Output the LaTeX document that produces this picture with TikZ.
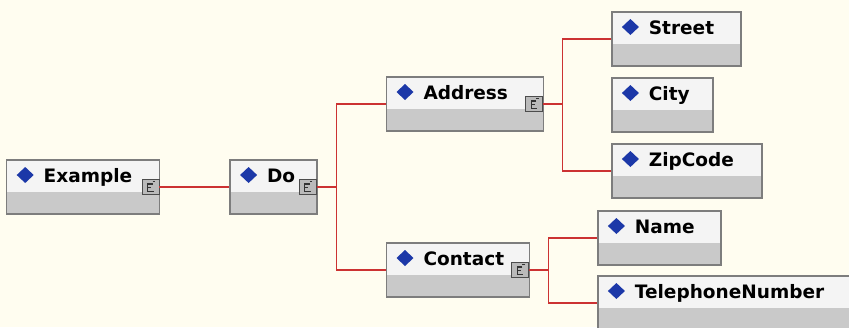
\documentclass[tikz,border=0pt]{standalone}
\usepackage{fontspec}
\newfontfamily\elemfont{DejaVu Sans}
\usetikzlibrary{positioning}

\definecolor{paper}{RGB}{255,253,240}
\definecolor{boxedge}{RGB}{125,125,125}
\definecolor{boxtop}{RGB}{244,244,244}
\definecolor{boxbottom}{RGB}{201,201,201}
\definecolor{diamondblue}{RGB}{28,56,168}
\definecolor{linkred}{RGB}{204,50,50}
\definecolor{iconfill}{RGB}{186,186,186}

\tikzset{
  element/.style={draw=boxedge, line width=1.4pt, fill=boxtop, inner sep=0pt,
    text width=#1, align=left, text height=22pt, text depth=32pt,
    font=\elemfont\bfseries\fontsize{18.5}{20}\selectfont,
    execute at begin node={\hspace*{37pt}},
    path picture={
      \fill[boxbottom] (path picture bounding box.south west) rectangle ([yshift=22pt]path picture bounding box.south east);
      \fill[diamondblue]
        ([xshift=18.5pt,yshift=-7pt]path picture bounding box.north west) --
        ([xshift=27pt,yshift=-15pt]path picture bounding box.north west) --
        ([xshift=18.5pt,yshift=-23pt]path picture bounding box.north west) --
        ([xshift=10pt,yshift=-15pt]path picture bounding box.north west) -- cycle;
    }},
  expander/.style={draw=black!70, line width=0.8pt, fill=iconfill, inner sep=0pt,
    minimum width=17pt, minimum height=15pt, anchor=east,
    path picture={
      \draw[black!80, line width=1.1pt]
        ([xshift=2pt,yshift=3pt]path picture bounding box.center) --
        ([xshift=-3pt,yshift=3pt]path picture bounding box.center) --
        ([xshift=-3pt,yshift=-4.5pt]path picture bounding box.center) --
        ([xshift=3pt,yshift=-4.5pt]path picture bounding box.center)
        ([xshift=-3pt,yshift=-0.5pt]path picture bounding box.center) --
        ([xshift=0.5pt,yshift=-0.5pt]path picture bounding box.center)
        ([xshift=2pt,yshift=5.5pt]path picture bounding box.center) --
        ([xshift=4.5pt,yshift=5.5pt]path picture bounding box.center);
    }},
  link/.style={draw=linkred, line width=1.3pt}
}

\begin{document}
\begin{tikzpicture}
  \useasboundingbox (0,0) rectangle (849pt,-327pt);
  \clip (0,0) rectangle (849pt,-327pt);
  \fill[paper] (0,0) rectangle (849pt,-327pt);

  % schema elements
  \node[element=153pt, anchor=west] (example) at (6pt,-187pt) {Example};
  \node[element=87pt, right=69pt of example] (do) {Do};
  \node[element=157pt, right=68pt of do, yshift=83pt] (address) {Address};
  \node[element=143pt, right=68pt of do, yshift=-83pt] (contact) {Contact};
  \node[element=129pt, right=67pt of address, yshift=65pt] (street) {Street};
  \node[element=101pt, right=67pt of address, yshift=-1pt] (city) {City};
  \node[element=150pt, right=67pt of address, yshift=-67pt] (zipcode) {ZipCode};
  \node[element=123pt, right=67pt of contact, yshift=32pt] (name) {Name};
  \node[element=255pt, right=67pt of contact, yshift=-33pt] (telephone) {TelephoneNumber};

  % sequence icons
  \node[expander] (example-icon) at ([xshift=-1pt]example.east) {};
  \node[expander] (do-icon) at ([xshift=-1pt]do.east) {};
  \node[expander] (address-icon) at ([xshift=-1pt]address.east) {};
  \node[expander] (contact-icon) at ([xshift=-1pt]contact.east) {};

  \coordinate[right=20pt of do-icon.east] (do-fork);
  \coordinate[right=19pt of address-icon.east] (address-fork);
  \coordinate[right=19pt of contact-icon.east] (contact-fork);

  \draw[link] (example-icon.east) -- (do.west);
  \draw[link] (do-icon.east) -- (do-fork) |- (address.west);
  \draw[link] (do-fork) |- (contact.west);
  \draw[link] (address-icon.east) -- (address-fork) |- (street.west);
  \draw[link] (address-fork) |- (zipcode.west);
  \draw[link] (contact-icon.east) -- (contact-fork) |- (name.west);
  \draw[link] (contact-fork) |- (telephone.west);
\end{tikzpicture}
\end{document}
